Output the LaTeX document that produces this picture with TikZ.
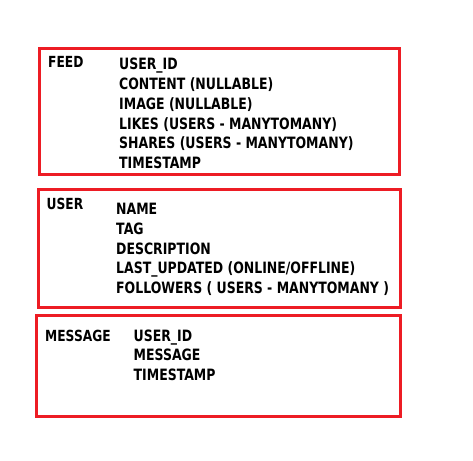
\documentclass[tikz,border=0pt]{standalone}
\usepackage{fontspec}
\setmainfont{DejaVu Sans}[FakeStretch=0.8]
\definecolor{boxred}{RGB}{237,28,36}
\tikzset{
  box/.style={draw=boxred, line width=3pt},
  title/.style={anchor=base west, inner sep=0pt, font=\bfseries\fontsize{15.3}{15.3}\selectfont},
  field/.style={anchor=base west, inner sep=0pt, font=\bfseries\fontsize{15.6}{15.6}\selectfont}
}
\begin{document}
\begin{tikzpicture}[x=1pt, y=-1pt]
			\fill[white] (0,0) rectangle (473,460);
			\useasboundingbox (0,0) rectangle (473,460);
			
			% FEED
			\coordinate (feedNW) at (39.8, 48.2); % corner
			\coordinate (feedSE) at (399.8, 174.5); % corner
			\node[title] (feed) at (48.0, 67.0) {FEED};
			\node[field] (feed1) at (119.0, 70.0) {USER\_ID};
			\node[field] (feed2) at (119.0, 89.7) {CONTENT (NULLABLE)};
			\node[field] (feed3) at (119.0, 109.4) {IMAGE (NULLABLE)};
			\node[field] (feed4) at (119.0, 129.1) {LIKES (USERS - MANYTOMANY)};
			\node[field] (feed5) at (119.0, 148.8) {SHARES (USERS - MANYTOMANY)};
			\node[field] (feed6) at (119.0, 168.5) {TIMESTAMP};
			
			% USER
			\coordinate (userNW) at (38.2, 189.2); % corner
			\coordinate (userSE) at (400.5, 307.2); % corner
			\node[title] (user) at (46.5, 209.3) {USER};
			\node[field] (user1) at (116.0, 214.7) {NAME};
			\node[field] (user2) at (116.0, 234.4) {TAG};
			\node[field] (user3) at (116.0, 254.1) {DESCRIPTION};
			\node[field] (user4) at (116.0, 273.8) {LAST\_UPDATED (ONLINE/OFFLINE)};
			\node[field] (user5) at (116.0, 293.5) {FOLLOWERS ( USERS - MANYTOMANY )};
			
			% MESSAGE
			\coordinate (msgNW) at (36.5, 315.8); % corner
			\coordinate (msgSE) at (400.0, 416.5); % corner
			\node[title] (msg) at (45.0, 341.0) {MESSAGE};
			\node[field] (msg1) at (133.5, 341.0) {USER\_ID};
			\node[field] (msg2) at (133.5, 360.7) {MESSAGE};
			\node[field] (msg3) at (133.5, 380.4) {TIMESTAMP};
			
			% DRAW BOXES
			\draw[box] (feedNW) rectangle (feedSE);
			\draw[box] (userNW) rectangle (userSE);
			\draw[box] (msgNW) rectangle (msgSE);
		\end{tikzpicture}
\end{document}
